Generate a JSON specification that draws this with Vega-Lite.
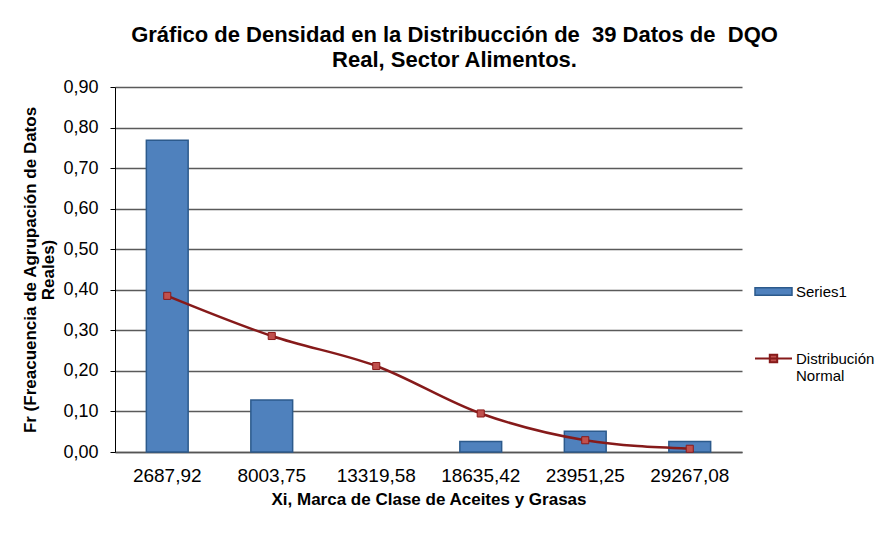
{
  "$schema": "https://vega.github.io/schema/vega-lite/v6.json",
  "width": 627,
  "height": 365,
  "autosize": "none",
  "padding": {"left": 115, "top": 87, "right": 148, "bottom": 83},
  "background": "white",
  "config": {
    "font": "Liberation Sans",
    "view": {"stroke": null}
  },
  "title": {
    "text": ["Gráfico de Densidad en la Distribucción de \u00a039 Datos de \u00a0DQO", "Real, Sector Alimentos."],
    "font": "Liberation Sans",
    "fontSize": 22,
    "fontWeight": "bold",
    "color": "black",
    "anchor": "middle",
    "dx": 26,
    "offset": 6,
    "lineHeight": 25
  },
  "data": {
    "values": [
      {"xi": "2687,92", "fr": 0.769, "normal": 0.385},
      {"xi": "8003,75", "fr": 0.128, "normal": 0.286},
      {"xi": "13319,58", "fr": 0.0, "normal": 0.212},
      {"xi": "18635,42", "fr": 0.026, "normal": 0.095},
      {"xi": "23951,25", "fr": 0.051, "normal": 0.029},
      {"xi": "29267,08", "fr": 0.026, "normal": 0.008}
    ]
  },
  "encoding": {
    "x": {
      "field": "xi",
      "type": "nominal",
      "sort": null,
      "scale": {"paddingInner": 0.6, "paddingOuter": 0.3},
      "axis": {
        "title": "Xi, Marca de Clase de Aceites y Grasas",
        "titleFont": "Liberation Sans",
        "titleFontSize": 17,
        "titleFontWeight": "bold",
        "titleColor": "black",
        "titlePadding": 6,
        "labelAngle": 0,
        "labelFontSize": 19,
        "labelColor": "black",
        "labelPadding": 14,
        "ticks": false,
        "domain": true,
        "domainColor": "#555555",
        "domainWidth": 1.5,
        "grid": false
      }
    }
  },
  "layer": [
    {
      "mark": {"type": "bar", "stroke": "#2C5A8C", "strokeWidth": 1.5},
      "encoding": {
        "y": {
          "field": "fr",
          "type": "quantitative",
          "scale": {"domain": [0, 0.9], "nice": false},
          "axis": {
            "title": ["Fr (Freacuencia de Agrupación de Datos", "Reales)"],
            "titleFont": "Liberation Sans",
            "titleFontSize": 17,
            "titleFontWeight": "bold",
            "titleColor": "black",
            "titleLineHeight": 18,
            "titlePadding": 5,
            "values": [0, 0.1, 0.2, 0.3, 0.4, 0.5, 0.6, 0.7, 0.8, 0.9],
            "labelExpr": "replace(format(datum.value, '.2f'), '.', ',')",
            "labelFontSize": 18,
            "labelColor": "black",
            "labelPadding": 12,
            "tickSize": 5,
            "tickColor": "black",
            "domainColor": "black",
            "grid": true,
            "gridColor": "#5a5a5a",
            "gridWidth": 1.5
          }
        },
        "strokeOpacity": {"condition": {"test": "datum.fr > 0", "value": 1}, "value": 0},
        "fill": {
          "datum": "Series1",
          "scale": {"domain": ["Series1"], "range": ["#4F81BD"]},
          "legend": {
            "title": null,
            "orient": "none",
            "legendX": 639,
            "legendY": 185,
            "labelFontSize": 15,
            "labelColor": "black",
            "labelOffset": 3,
            "symbolType": "M-1,-0.2H1V0.2H-1Z",
            "symbolSize": 1369,
            "symbolStrokeColor": "#2C5A8C",
            "symbolStrokeWidth": 1.5
          }
        }
      }
    },
    {
      "mark": {"type": "line", "interpolate": "monotone", "strokeWidth": 2.5},
      "encoding": {
        "y": {"field": "normal", "type": "quantitative"},
        "stroke": {
          "datum": "Distribución Normal",
          "scale": {"domain": ["Distribución Normal"], "range": ["#861A1A"]},
          "legend": {
            "title": null,
            "orient": "none",
            "legendX": 639,
            "legendY": 252,
            "labelFontSize": 15,
            "labelColor": "black",
            "labelOffset": 3,
            "labelLineHeight": 16,
            "labelExpr": "['Distribución', 'Normal']",
            "symbolType": "M-1,0H1M-0.2,-0.2H0.2V0.2H-0.2Z",
            "symbolSize": 1369,
            "symbolStrokeWidth": 2,
            "symbolFillColor": "#C0504D"
          }
        }
      }
    },
    {
      "mark": {"type": "point", "shape": "square", "filled": true, "size": 50, "fill": "#C0504D", "stroke": "#8B1A1A", "strokeWidth": 1, "opacity": 1},
      "encoding": {
        "y": {"field": "normal", "type": "quantitative"}
      }
    }
  ]
}
